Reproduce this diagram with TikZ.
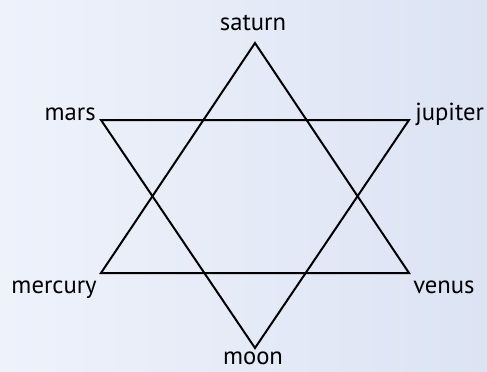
\documentclass[tikz,border=0pt]{standalone}
\usepackage{fontspec}
\setmainfont{PT Sans}
\definecolor{bgleft}{HTML}{EEF2FB}
\definecolor{bgright}{HTML}{DCE3F3}

\begin{document}
\begin{tikzpicture}[x=0.75pt, y=-0.75pt,
    planet/.style={font=\fontsize{18.5}{20}\selectfont, inner sep=0pt},
    side/.style={line width=1.5pt, line join=miter}]

    \shade[left color=bgleft, right color=bgright] (0, 0) rectangle (487, 372);
    \useasboundingbox (0, 0) rectangle (487, 372);

    % upward triangle
    \coordinate (Sa) at (255, 43);
    \coordinate (Me) at (101, 273);
    \coordinate (Ve) at (409, 273);

    % downward triangle
    \coordinate (Ma) at (101, 120);
    \coordinate (Ju) at (409, 120);
    \coordinate (Mo) at (255, 348);

    \draw [side] (Sa) -- (Me) -- (Ve) -- cycle;
    \draw [side] (Ma) -- (Ju) -- (Mo) -- cycle;

    \node [planet, anchor=base] (saturn) at (253, 30) {saturn};
    \node [planet, anchor=base east] (mars) at (96, 120) {mars};
    \node [planet, anchor=base west] (jupiter) at (415, 120) {jupiter};
    \node [planet, anchor=base east] (mercury) at (97, 293) {mercury};
    \node [planet, anchor=base west] (venus) at (413, 293) {venus};
    \node [planet, anchor=base] (moon) at (253, 364) {moon};
\end{tikzpicture}
\end{document}
